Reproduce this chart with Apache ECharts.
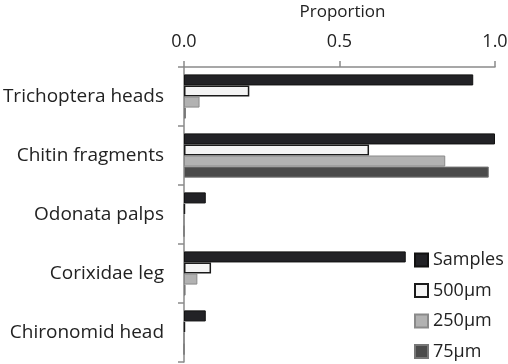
<!DOCTYPE html>
<html><head><meta charset="utf-8">
<script src="https://cdn.jsdelivr.net/npm/echarts@6/dist/echarts.min.js"></script>
<style>html,body{margin:0;padding:0;background:#fff}#c{width:508px;height:364px}</style>
</head><body><div id="c"></div>
<script>
var categories = ['Trichoptera heads','Chitin fragments','Odonata palps','Corixidae leg','Chironomid head'];
var seriesNames = ['Samples','500\u00b5m','250\u00b5m','75\u00b5m'];
var samples = [0.93, 1.0, 0.07, 0.713, 0.07];
var s500 = [0.21, 0.595, 0.003, 0.087, 0.003];
var s250 = [0.05, 0.84, 0, 0.043, 0];
var s75 = [0.006, 0.98, 0, 0.005, 0];
var tickValues = [0, 0.5, 1.0];

var styles = [
  {color:'#222226', borderColor:'#111', borderWidth:1},
  {color:'#f4f4f4', borderColor:'#1a1a1a', borderWidth:1.5},
  {color:'#b2b2b2', borderColor:'#8a8a8a', borderWidth:1},
  {color:'#4b4b4b', borderColor:'#777', borderWidth:1}
];
var data = [samples, s500, s250, s75];
var font = '"Open Sans", sans-serif';
var chart = echarts.init(document.getElementById('c'));
chart.setOption({
  animation:false,
  grid:{left:184, right:13, top:67, bottom:2, containLabel:false, outerBoundsMode:'none'},
  xAxis:{type:'value', position:'top', min:tickValues[0], max:tickValues[2], interval:0.5,
    name:'Proportion', nameLocation:'middle', nameGap:46,
    nameTextStyle:{fontFamily:font, fontSize:17, color:'#222', padding:[0,0,0,6]},
    axisLine:{show:true, lineStyle:{color:'#8a8a8a', width:1.5}},
    axisTick:{show:true, length:6, lineStyle:{color:'#8a8a8a', width:1.5}},
    splitLine:{show:false},
    axisLabel:{fontFamily:font, fontSize:18, color:'#222', margin:16,
      formatter:function(v){return v.toFixed(1);}}
  },
  yAxis:{type:'category', data:categories, inverse:true,
    axisLine:{show:true, lineStyle:{color:'#8a8a8a', width:1.5}},
    axisTick:{show:true, length:6, lineStyle:{color:'#8a8a8a', width:1.5}},
    axisLabel:{fontFamily:font, fontSize:19, color:'#222', margin:20}
  },
  legend:{orient:'vertical', left:414, top:250, padding:0, itemWidth:13, itemHeight:13, itemGap:10.5,
    textStyle:{fontFamily:font, fontSize:18, lineHeight:20, color:'#222'}, icon:'rect'},
  series: seriesNames.map(function(n,i){
    return {name:n, type:'bar', data:data[i], barGap:'0%', barCategoryGap:'25%',
      itemStyle:styles[i]};
  })
});
</script></body></html>
